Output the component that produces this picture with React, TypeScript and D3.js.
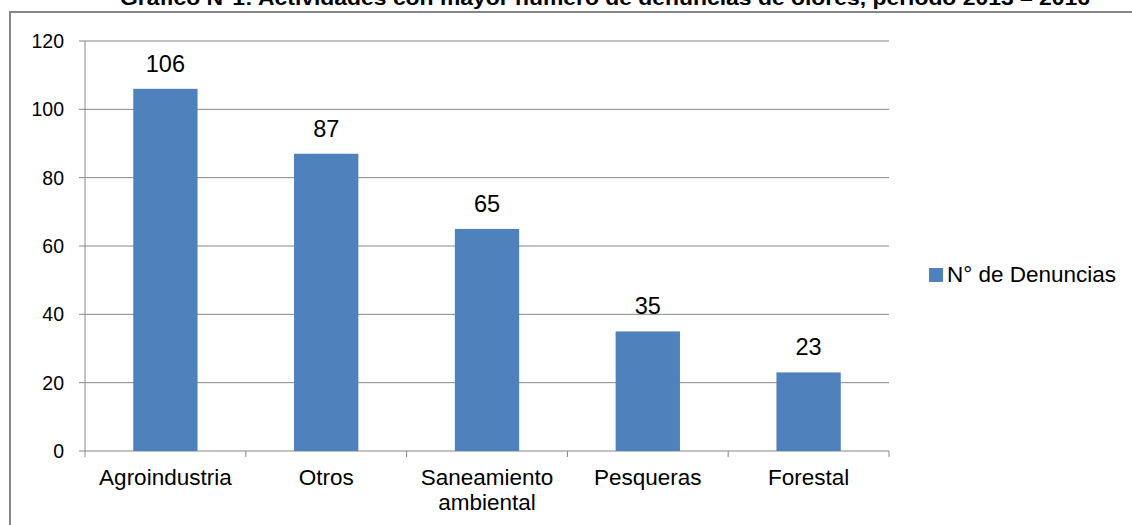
import React from "react";
import * as d3 from "d3";

const categories: string[][] = [
  ["Agroindustria"],
  ["Otros"],
  ["Saneamiento", "ambiental"],
  ["Pesqueras"],
  ["Forestal"],
];
const values: number[] = [106, 87, 65, 35, 23];
const yTicks: number[] = [0, 20, 40, 60, 80, 100, 120];
const seriesName = "N° de Denuncias";
const title = "Gráfico N°1: Actividades con mayor número de denuncias de olores, periodo 2013 – 2016";

const W = 1132;
const H = 525;
const FONT = "'Liberation Sans', Arial, sans-serif";
const GRID = "#868686";
const BAR = "#4F81BD";

export default function App() {
  const keys = categories.map((c) => c.join(" "));
  const x = d3.scaleBand<string>().domain(keys).range([85, 889]).padding(0);
  const y = d3.scaleLinear().domain([0, 120]).range([451, 41]);
  const bw = x.bandwidth() * 0.4;

  return (
    <svg
      width={W}
      height={H}
      style={{ position: "absolute", left: 0, top: 0, background: "#fff" }}
      fontFamily={FONT}
    >
      <rect x={0} y={0} width={W} height={H} fill="#fff" />
      {/* frame */}
      <rect x={10} y={12} width={W + 20} height={H + 20} fill="none" stroke={GRID} strokeWidth={2} />
      {/* title (partly cut off) */}
      <text
        x={605}
        y={5}
        textAnchor="middle"
        fontSize={20}
        fontWeight="bold"
        fill="#000"
        textLength={970}
        lengthAdjust="spacingAndGlyphs"
      >
        {title}
      </text>
      {/* gridlines and y ticks */}
      {yTicks.map((t) => (
        <g key={t}>
          <line x1={79} x2={889} y1={y(t)} y2={y(t)} stroke={GRID} strokeWidth={1} />
          <text x={64} y={y(t)} dy="0.36em" textAnchor="end" fontSize={19.5} fill="#000">
            {t}
          </text>
        </g>
      ))}
      {/* y axis line */}
      <line x1={85} x2={85} y1={y(120)} y2={457} stroke={GRID} strokeWidth={1} />
      {/* x ticks */}
      {keys.map((k) => (
        <line
          key={"t" + k}
          x1={(x(k) as number) + x.bandwidth()}
          x2={(x(k) as number) + x.bandwidth()}
          y1={y(0)}
          y2={457}
          stroke={GRID}
          strokeWidth={1}
        />
      ))}
      {/* bars */}
      {keys.map((k, i) => {
        const x0 = (x(k) as number) + (x.bandwidth() - bw) / 2;
        return (
          <g key={"b" + k}>
            <rect x={x0} y={y(values[i])} width={bw} height={y(0) - y(values[i])} fill={BAR} />
            <text
              x={x0 + bw / 2}
              y={y(values[i]) - 17}
              textAnchor="middle"
              fontSize={23.5}
              fill="#000"
            >
              {values[i]}
            </text>
          </g>
        );
      })}
      {/* category labels */}
      {categories.map((lines, i) => {
        const cx = (x(keys[i]) as number) + x.bandwidth() / 2;
        return (
          <text key={"c" + i} x={cx} y={485} textAnchor="middle" fontSize={22.5} fill="#000">
            {lines.map((l, j) => (
              <tspan key={j} x={cx} dy={j === 0 ? 0 : 25}>
                {l}
              </tspan>
            ))}
          </text>
        );
      })}
      {/* legend */}
      <rect x={929} y={268} width={14} height={14} fill={BAR} />
      <text x={947} y={282} fontSize={22.5} fill="#000">
        {seriesName}
      </text>
    </svg>
  );
}
